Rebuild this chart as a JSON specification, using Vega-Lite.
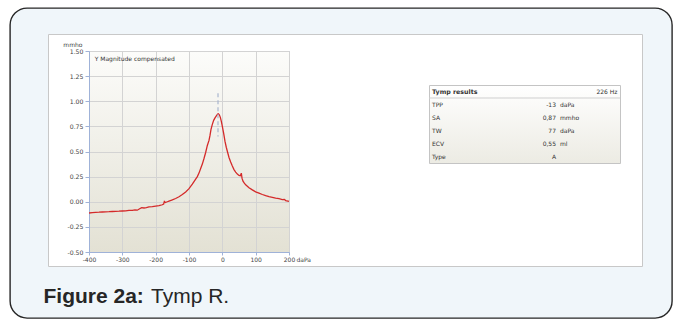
{
  "$schema": "https://vega.github.io/schema/vega-lite/v6.json",
  "background": "#ffffff",
  "autosize": {"type": "none"},
  "padding": {"left": 10, "top": 8, "right": 664, "bottom": 312},
  "columns": 6,
  "align": "none",
  "bounds": "flush",
  "spacing": {"row": -284, "column": -624},
  "config": {"view": {"stroke": null}, "font": "DejaVu Sans"},
  "concat": [
    {
      "width": 662, "height": 310,
      "view": {"fill": "#f0f6fa", "stroke": "#262626", "strokeWidth": 1.4, "cornerRadius": 17},
      "data": {"values": [{"fig": "Figure 2a:", "caption": "Tymp R."}]},
      "layer": [
        {"mark": {"type": "text", "align": "left", "baseline": "alphabetic", "font": "Liberation Sans", "fontSize": 21, "fontWeight": "bold", "color": "#262626", "dx": -297.5, "dy": 140},
         "encoding": {"text": {"field": "fig"}}},
        {"mark": {"type": "text", "align": "left", "baseline": "alphabetic", "font": "Liberation Sans", "fontSize": 21, "color": "#262626", "dx": -190, "dy": 140},
         "encoding": {"text": {"field": "caption"}}}
      ]
    },
    {"width": 1, "height": 1, "mark": "point", "data": {"values": []}},
    {"width": 1, "height": 1, "mark": "point", "data": {"values": []}},
    {"width": 1, "height": 1, "mark": "point", "data": {"values": []}},
    {"width": 1, "height": 1, "mark": "point", "data": {"values": []}},
    {"width": 1, "height": 1, "mark": "point", "data": {"values": []}},

    {"width": 1, "height": 1, "mark": "point", "data": {"values": []}},
    {"width": 594, "height": 232, "view": {"fill": "#ffffff", "stroke": "#c8c8c8", "strokeWidth": 1}, "mark": "point", "data": {"values": []}},
    {"width": 1, "height": 1, "mark": "point", "data": {"values": []}},
    {"width": 1, "height": 1, "mark": "point", "data": {"values": []}},
    {"width": 1, "height": 1, "mark": "point", "data": {"values": []}},
    {"width": 1, "height": 1, "mark": "point", "data": {"values": []}},

    {"width": 1, "height": 1, "mark": "point", "data": {"values": []}},
    {"width": 1, "height": 1, "mark": "point", "data": {"values": []}},
    {"width": 694.3, "height": 352.7, "mark": "point", "data": {"values": []}},
    {"width": 1, "height": 1, "mark": "point", "data": {"values": []}},
    {"width": 1, "height": 1, "mark": "point", "data": {"values": []}},
    {"width": 1, "height": 1, "mark": "point", "data": {"values": []}},

    {"width": 1, "height": 1, "mark": "point", "data": {"values": []}},
    {"width": 1, "height": 1, "mark": "point", "data": {"values": []}},
    {"width": 1, "height": 1, "mark": "point", "data": {"values": []}},
    {
      "width": 200, "height": 201,
      "view": {"fill": {"gradient": "linear", "x1": 0, "y1": 0, "x2": 0, "y2": 1, "stops": [{"offset": 0, "color": "#fcfcfa"}, {"offset": 1, "color": "#e3e1d4"}]}, "stroke": "#b4c2dc", "strokeWidth": 1},
      "layer": [
        {
          "data": {"values": [
            {"daPa": -400, "mmho": -0.112}, {"daPa": -390, "mmho": -0.108}, {"daPa": -380, "mmho": -0.105},
            {"daPa": -370, "mmho": -0.104}, {"daPa": -360, "mmho": -0.102}, {"daPa": -350, "mmho": -0.1},
            {"daPa": -340, "mmho": -0.099}, {"daPa": -330, "mmho": -0.097}, {"daPa": -320, "mmho": -0.095},
            {"daPa": -310, "mmho": -0.094}, {"daPa": -300, "mmho": -0.092}, {"daPa": -290, "mmho": -0.09},
            {"daPa": -280, "mmho": -0.085}, {"daPa": -270, "mmho": -0.086}, {"daPa": -262, "mmho": -0.08},
            {"daPa": -255, "mmho": -0.084}, {"daPa": -248, "mmho": -0.07}, {"daPa": -242, "mmho": -0.058},
            {"daPa": -235, "mmho": -0.062}, {"daPa": -228, "mmho": -0.058}, {"daPa": -220, "mmho": -0.052},
            {"daPa": -210, "mmho": -0.048}, {"daPa": -200, "mmho": -0.043}, {"daPa": -190, "mmho": -0.038},
            {"daPa": -180, "mmho": -0.03}, {"daPa": -176, "mmho": -0.022}, {"daPa": -174, "mmho": 0.002},
            {"daPa": -171, "mmho": -0.008}, {"daPa": -165, "mmho": 0.0}, {"daPa": -160, "mmho": 0.006},
            {"daPa": -150, "mmho": 0.018}, {"daPa": -140, "mmho": 0.032}, {"daPa": -130, "mmho": 0.05},
            {"daPa": -120, "mmho": 0.072}, {"daPa": -110, "mmho": 0.098}, {"daPa": -100, "mmho": 0.13},
            {"daPa": -90, "mmho": 0.175}, {"daPa": -80, "mmho": 0.225}, {"daPa": -75, "mmho": 0.25},
            {"daPa": -70, "mmho": 0.285}, {"daPa": -65, "mmho": 0.33}, {"daPa": -60, "mmho": 0.375},
            {"daPa": -55, "mmho": 0.43}, {"daPa": -50, "mmho": 0.49}, {"daPa": -45, "mmho": 0.56},
            {"daPa": -40, "mmho": 0.61}, {"daPa": -37, "mmho": 0.66}, {"daPa": -34, "mmho": 0.72},
            {"daPa": -30, "mmho": 0.77}, {"daPa": -26, "mmho": 0.81}, {"daPa": -22, "mmho": 0.835},
            {"daPa": -18, "mmho": 0.855}, {"daPa": -14, "mmho": 0.872}, {"daPa": -12, "mmho": 0.875},
            {"daPa": -9, "mmho": 0.865}, {"daPa": -6, "mmho": 0.84}, {"daPa": -3, "mmho": 0.8},
            {"daPa": 0, "mmho": 0.75}, {"daPa": 4, "mmho": 0.68}, {"daPa": 8, "mmho": 0.6},
            {"daPa": 12, "mmho": 0.54}, {"daPa": 16, "mmho": 0.49}, {"daPa": 20, "mmho": 0.44},
            {"daPa": 25, "mmho": 0.395}, {"daPa": 30, "mmho": 0.355}, {"daPa": 35, "mmho": 0.32},
            {"daPa": 40, "mmho": 0.295}, {"daPa": 45, "mmho": 0.275}, {"daPa": 50, "mmho": 0.262},
            {"daPa": 54, "mmho": 0.258}, {"daPa": 57, "mmho": 0.285}, {"daPa": 59, "mmho": 0.235},
            {"daPa": 62, "mmho": 0.205}, {"daPa": 66, "mmho": 0.185}, {"daPa": 70, "mmho": 0.168},
            {"daPa": 80, "mmho": 0.14}, {"daPa": 90, "mmho": 0.118}, {"daPa": 100, "mmho": 0.098},
            {"daPa": 110, "mmho": 0.085}, {"daPa": 120, "mmho": 0.072}, {"daPa": 130, "mmho": 0.06},
            {"daPa": 140, "mmho": 0.05}, {"daPa": 150, "mmho": 0.043}, {"daPa": 160, "mmho": 0.036},
            {"daPa": 170, "mmho": 0.03}, {"daPa": 180, "mmho": 0.022}, {"daPa": 186, "mmho": 0.024},
            {"daPa": 190, "mmho": 0.012}, {"daPa": 200, "mmho": 0.003}
          ]},
          "mark": {"type": "line", "color": "#d42a2a", "strokeWidth": 1.3},
          "encoding": {
            "x": {"field": "daPa", "type": "quantitative",
              "scale": {"domain": [-400, 200], "nice": false, "zero": false},
              "axis": {"values": [-400, -300, -200, -100, 0, 100, 200], "tickCount": 30,
                "labelExpr": "replace(format(datum.value, 'd'), '\u2212', '-')",
                "title": "daPa", "titleX": 207, "titleY": 7, "titleAlign": "left", "titleBaseline": "middle",
                "titleFontWeight": "normal", "titleFontSize": 6, "titleFont": "DejaVu Sans", "titleColor": "#444444",
                "labelFontSize": 6, "labelFont": "DejaVu Sans", "labelColor": "#444444",
                "tickSize": 3, "labelPadding": 1, "labelFlush": false, "labelOverlap": false,
                "domainColor": "#9fb2d8", "tickColor": "#9fb2d8", "gridColor": "#d3d3d3"}},
            "y": {"field": "mmho", "type": "quantitative",
              "scale": {"domain": [-0.5, 1.5], "nice": false, "zero": false},
              "axis": {"values": [-0.5, -0.25, 0, 0.25, 0.5, 0.75, 1, 1.25, 1.5], "tickCount": 30,
                "labelExpr": "replace(format(datum.value, '.2f'), '\u2212', '-')",
                "title": "mmho", "titleAngle": 0, "titleX": -7, "titleY": -7, "titleAlign": "right", "titleBaseline": "middle",
                "titleFontWeight": "normal", "titleFontSize": 6, "titleFont": "DejaVu Sans", "titleColor": "#444444",
                "labelFontSize": 6.2, "labelFont": "DejaVu Sans", "labelColor": "#444444",
                "tickSize": 4, "labelPadding": 2, "labelFlush": false, "labelOverlap": false,
                "domainColor": "#9fb2d8", "tickColor": "#9fb2d8", "gridColor": "#d3d3d3"}}
          }
        },
        {
          "data": {"values": [{"tpp": -13}]},
          "mark": {"type": "rule", "color": "#a9b6cf", "strokeDash": [4, 3], "strokeWidth": 1.2},
          "encoding": {"x": {"field": "tpp", "type": "quantitative"}, "y": {"datum": 1.08}, "y2": {"datum": 0.65}}
        },
        {
          "data": {"values": [{"label": "Y  Magnitude compensated"}]},
          "mark": {"type": "text", "align": "left", "baseline": "middle", "fontSize": 6, "font": "DejaVu Sans", "color": "#333333"},
          "encoding": {"x": {"datum": -383}, "y": {"datum": 1.424}, "text": {"field": "label"}}
        }
      ]
    },
    {"width": 1, "height": 1, "mark": "point", "data": {"values": []}},
    {"width": 1, "height": 1, "mark": "point", "data": {"values": []}},

    {"width": 1, "height": 1, "mark": "point", "data": {"values": []}},
    {"width": 1, "height": 1, "mark": "point", "data": {"values": []}},
    {"width": 1, "height": 1, "mark": "point", "data": {"values": []}},
    {"width": 1, "height": 1, "mark": "point", "data": {"values": []}},
    {"width": 1387.7, "height": 400.3, "mark": "point", "data": {"values": []}},
    {"width": 1, "height": 1, "mark": "point", "data": {"values": []}},

    {"width": 1, "height": 1, "mark": "point", "data": {"values": []}},
    {"width": 1, "height": 1, "mark": "point", "data": {"values": []}},
    {"width": 1, "height": 1, "mark": "point", "data": {"values": []}},
    {"width": 1, "height": 1, "mark": "point", "data": {"values": []}},
    {"width": 1, "height": 1, "mark": "point", "data": {"values": []}},
    {
      "width": 191, "height": 78,
      "view": {"fill": {"gradient": "linear", "x1": 0, "y1": 0, "x2": 0, "y2": 1, "stops": [{"offset": 0, "color": "#ffffff"}, {"offset": 1, "color": "#ecebe3"}]}, "stroke": "#c4c4c4", "strokeWidth": 1},
      "layer": [
        {
          "data": {"values": [{"row": "Tymp results", "freq": "226 Hz"}]},
          "mark": {"type": "text", "align": "left", "baseline": "middle", "fontSize": 6.3, "fontWeight": "bold", "color": "#333333", "dx": -92.5},
          "encoding": {
            "y": {"field": "row", "type": "nominal", "scale": {"type": "band", "domain": ["Tymp results", "TPP", "SA", "TW", "ECV", "Type"], "paddingInner": 0, "paddingOuter": 0}, "axis": null},
            "text": {"field": "row"}
          }
        },
        {
          "data": {"values": [{"row": "Tymp results", "freq": "226 Hz"}]},
          "mark": {"type": "text", "align": "right", "baseline": "middle", "fontSize": 6, "color": "#333333", "dx": 93},
          "encoding": {
            "y": {"field": "row", "type": "nominal", "axis": null},
            "text": {"field": "freq"}
          }
        },
        {
          "data": {"values": [{"row": "TPP"}]},
          "mark": {"type": "rule", "color": "#cfcfcf", "strokeWidth": 1},
          "encoding": {"y": {"field": "row", "type": "nominal", "bandPosition": 0, "axis": null}}
        },
        {
          "data": {"values": [
            {"row": "TPP", "value": "-13", "unit": "daPa"},
            {"row": "SA", "value": "0,87", "unit": "mmho"},
            {"row": "TW", "value": "77", "unit": "daPa"},
            {"row": "ECV", "value": "0,55", "unit": "ml"},
            {"row": "Type", "value": "A", "unit": ""}
          ]},
          "layer": [
            {"mark": {"type": "text", "align": "left", "baseline": "middle", "fontSize": 6, "color": "#333333", "dx": -92.5},
             "encoding": {"y": {"field": "row", "type": "nominal", "axis": null}, "text": {"field": "row"}}},
            {"mark": {"type": "text", "align": "right", "baseline": "middle", "fontSize": 6, "color": "#333333", "dx": 31.5},
             "encoding": {"y": {"field": "row", "type": "nominal", "axis": null}, "text": {"field": "value"}}},
            {"mark": {"type": "text", "align": "left", "baseline": "middle", "fontSize": 6, "color": "#333333", "dx": 35.5},
             "encoding": {"y": {"field": "row", "type": "nominal", "axis": null}, "text": {"field": "unit"}}}
          ]
        }
      ]
    }
  ]
}
